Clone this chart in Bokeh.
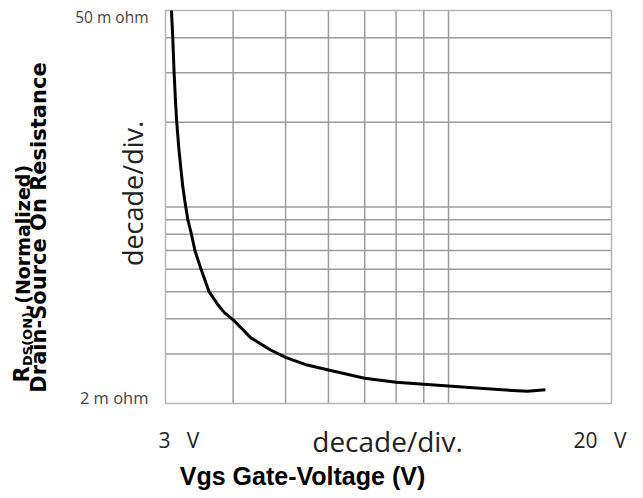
from math import pi, log10
from bokeh.plotting import figure
from bokeh.models import Label, Range1d
from bokeh.embed import file_html
from bokeh.resources import INLINE

# Data (Vgs in volts, Rds(on) in m ohm)
vgs = [3.077, 3.094, 3.112, 3.13, 3.147, 3.174, 3.20, 3.23, 3.27, 3.30, 3.35, 3.40, 3.49,
       3.61, 3.74, 3.85, 4.0, 4.31, 4.69, 5.0, 5.48, 6.0, 7.0, 8.0, 9.0, 10.0, 11.6,
       13.4, 14.0, 15.1]
rds = [50, 40, 30, 23.9, 20, 16.3, 13.9, 11.75, 10, 9, 8, 7, 6,
       5, 4.52, 4.22, 3.97, 3.43, 3.10, 2.92, 2.74, 2.63, 2.46, 2.38, 2.34, 2.31, 2.26,
       2.22, 2.21, 2.24]

x_grid_ticks = [4, 5, 6, 7, 8, 9, 10]
y_grid_ticks = [3, 4, 5, 6, 7, 8, 9, 10, 20, 30, 40]
x_min, x_max = 3, 20
y_min, y_max = 2, 50

# layout (pixels): canvas size and where the chart box sits in it
W, H = 627, 496
BOX_L, BOX_R, BOX_T, BOX_B = 165, 611, 10, 403

# extend the log ranges so the box lands at the wanted pixels
kx = (log10(x_max) - log10(x_min)) / (BOX_R - BOX_L)
ky = (log10(y_max) - log10(y_min)) / (BOX_B - BOX_T)
xr = Range1d(10 ** (log10(x_min) - BOX_L * kx), 10 ** (log10(x_max) + (W - BOX_R) * kx))
yr = Range1d(10 ** (log10(y_min) - (H - BOX_B) * ky), 10 ** (log10(y_max) + BOX_T * ky))

p = figure(
    frame_width=W, frame_height=H,
    min_border=0, min_border_left=0, min_border_right=0, min_border_top=0, min_border_bottom=0,
    x_axis_type="log", y_axis_type="log",
    x_range=xr, y_range=yr,
    x_axis_location=None, y_axis_location=None,
    output_backend="svg", toolbar_location=None,
)
p.background_fill_color = "white"
p.border_fill_color = "white"
p.outline_line_color = None
p.grid.visible = False

grid_color = "#9c9c9c"
# vertical grid lines
p.segment(x0=x_grid_ticks, y0=[y_min] * len(x_grid_ticks),
          x1=x_grid_ticks, y1=[y_max] * len(x_grid_ticks),
          line_color=grid_color, line_width=1.5)
# horizontal grid lines
p.segment(x0=[x_min] * len(y_grid_ticks), y0=y_grid_ticks,
          x1=[x_max] * len(y_grid_ticks), y1=y_grid_ticks,
          line_color=grid_color, line_width=1.5)
# box
p.quad(left=[x_min], right=[x_max], bottom=[y_min], top=[y_max],
       fill_color=None, line_color="#b4b4b4", line_width=1.5)

p.line(vgs, rds, line_width=3, line_color="black", line_join="round")

def lab(text, sx, sy, size, font="Open Sans", style="normal", align="left",
        baseline="alphabetic", angle=0, color="#222222"):
    p.add_layout(Label(x=sx, y=sy, x_units="screen", y_units="screen", text=text,
                       text_font=font, text_font_size=size, text_font_style=style,
                       text_align=align, text_baseline=baseline, angle=angle,
                       text_color=color))

NB = "\u00a0"
TF = "DejaVu Sans"

# y extent labels
lab("50 m ohm", 148, 480, "15.5px", align="right", color="#444444")
lab("2 m ohm", 148, 99, "16.5px", align="right", color="#444444")
lab("decade/div.", 132, 303, "27px", align="center", angle=pi / 2)

# x labels
lab("3" + NB * 3 + "V", 158, 57, "21px")
lab("decade/div.", 387, 56, "28px", align="center")
lab("20" + NB * 3 + "V", 573, 57, "21px")
lab("Vgs Gate-Voltage (V)", 302, 21, "25px", font="Liberation Sans", style="bold",
    align="center", color="black")

# y axis title (rotated, two lines, with subscript)
lab("R", 21.7, 114, "21px", font=TF, style="bold", angle=pi / 2, color="black")
lab("DS(ON)", 27, 130.5, "13px", font=TF, style="bold", angle=pi / 2, color="black")
lab(",(Normalized)", 22.4, 185.5, "19px", font=TF, style="bold", angle=pi / 2, color="black")
lab("Drain-Source On Resistance", 38.7, 269, "21px", font=TF, style="bold",
    align="center", angle=pi / 2, color="black")

open("out.html", "w").write(file_html(p, INLINE))
